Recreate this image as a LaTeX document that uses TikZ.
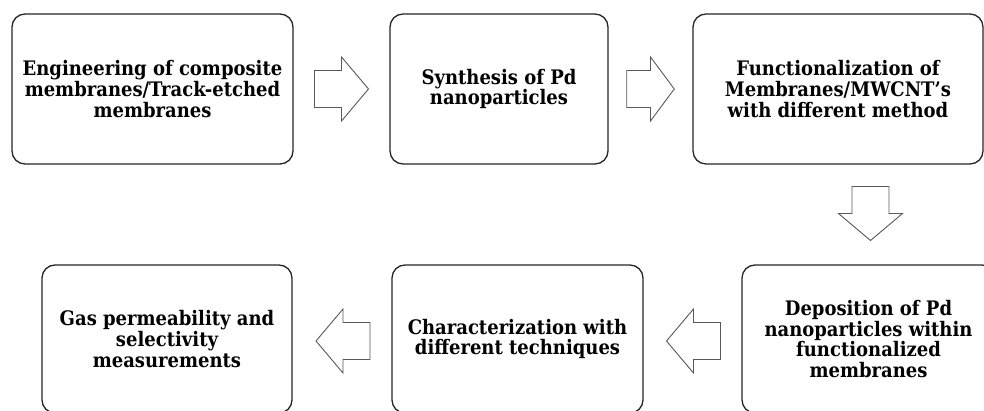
\documentclass[tikz,border=0pt]{standalone}
\usepackage{fontspec}
\setmainfont{DejaVu Serif Condensed}
\usetikzlibrary{calc}
\begin{document}
\begin{tikzpicture}[x=1pt,y=1pt,
  stepbox/.style={draw=black!85, line width=1.3pt, rounded corners=13pt, fill=white,
    inner sep=0pt, align=center, font=\bfseries\fontsize{20}{20.7}\selectfont},
  blockarr/.pic={\draw[draw=black!65, line width=0.9pt, fill=white, line join=miter]
    (-27,-18.5) -- (0,-18.5) -- (0,-32) -- (27,0) -- (0,32) -- (0,18.5) -- (-27,18.5) -- cycle;}
]
\useasboundingbox[fill=white] (0,0) rectangle (984,411);
% top row (image y 14-164 -> tikz 397-247)
\node[stepbox, minimum width=281pt, minimum height=150pt] (b1) at (152.5,322)
  {Engineering of composite\\membranes/Track-etched\\membranes};
\node[stepbox, minimum width=218pt, minimum height=150pt] (b2) at (499,322)
  {Synthesis of Pd\\nanoparticles};
\node[stepbox, minimum width=290pt, minimum height=150pt] (b3) at (838,322)
  {Functionalization of\\Membranes/MWCNT's\\with different method};
% bottom row (image y 265-413 -> tikz 146 to -2)
\node[stepbox, minimum width=253pt, minimum height=148pt] (b6) at (868.5,72)
  {Deposition of Pd\\nanoparticles within\\functionalized\\membranes};
\node[stepbox, minimum width=251pt, minimum height=148pt] (b4) at (517.5,72)
  {Characterization with\\different techniques};
\node[stepbox, minimum width=250pt, minimum height=148pt] (b5) at (167,72)
  {Gas permeability and\\selectivity\\measurements};
% connectors
\coordinate (a12) at ($(b1.east)!0.5!(b2.west)$);
\coordinate (a23) at ($(b2.east)!0.5!(b3.west)$);
\coordinate (a36) at (870.5,197.5);
\coordinate (a64) at ($(b4.east)!0.5!(b6.west)+(1,-2)$);
\coordinate (a45) at ($(b5.east)!0.5!(b4.west)+(1,-2)$);
\pic at (a12) {blockarr};
\pic[xscale=0.88] at (a23) {blockarr};
\pic[rotate=-90] at (a36) {blockarr};
\pic[rotate=180] at (a64) {blockarr};
\pic[rotate=180] at (a45) {blockarr};
\end{tikzpicture}
\end{document}
